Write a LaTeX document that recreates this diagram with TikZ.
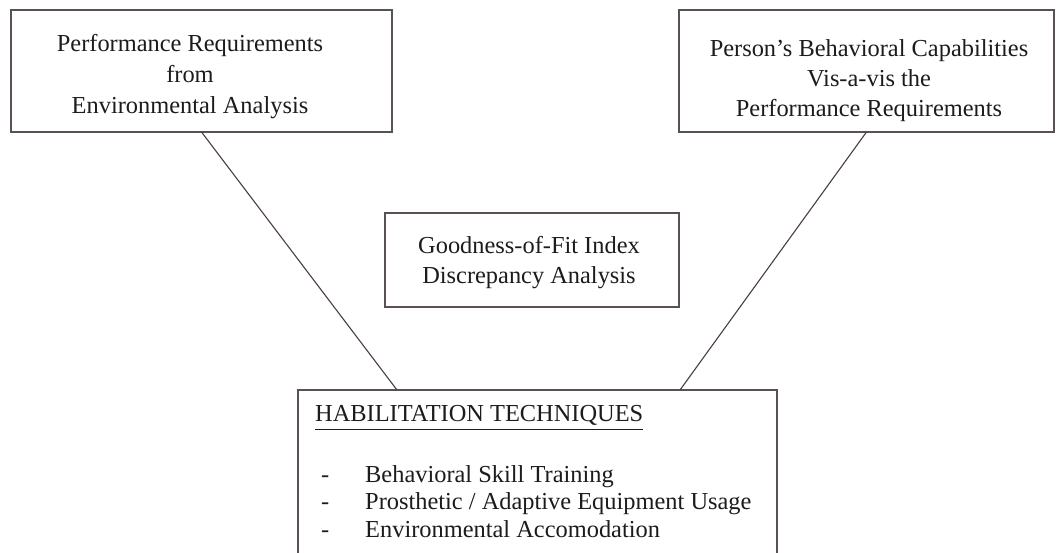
\documentclass[tikz,border=0pt]{standalone}
\usepackage{fontspec}
\setmainfont{Liberation Serif}
\usetikzlibrary{calc}
\definecolor{boxline}{HTML}{5A5252}
\definecolor{linkline}{HTML}{4A3E3E}
\definecolor{ink}{HTML}{1C1C1C}
\begin{document}
\begin{tikzpicture}[x=1pt,y=-1pt,
  panel/.style={draw=boxline, line width=1.6pt, inner sep=0pt, outer sep=0pt},
  caption/.style={anchor=base, inner sep=0pt, text=ink, font=\fontsize{24.4}{31}\selectfont},
  captiontight/.style={anchor=base, inner sep=0pt, text=ink, font=\fontsize{24.4}{30}\selectfont},
  itemtext/.style={anchor=base west, inner sep=0pt, text=ink, font=\fontsize{24.4}{28}\selectfont},
  link/.style={draw=linkline, line width=1.1pt}]
\useasboundingbox (0,0) rectangle (1056,553);
\clip (0,0) rectangle (1056,553);
\fill[white] (0,0) rectangle (1056,553);

% upper left: requirements from the environment
\node[panel, minimum width=381pt, minimum height=122pt] (perf) at (201.5,71) {};
\node[caption] (perftext) at (190,52)
  {\begin{tabular}[t]{@{}c@{}}Performance Requirements\\from\\Environmental Analysis\end{tabular}};

% upper right: the person's capabilities
\node[panel, minimum width=375pt, minimum height=122pt] (cap) at (866.5,71) {};
\node[captiontight] (captext) at (869,57)
  {\begin{tabular}[t]{@{}c@{}}Person’s Behavioral Capabilities\\Vis-a-vis the\\Performance Requirements\end{tabular}};

% centre: fit index
\node[panel, minimum width=294pt, minimum height=94pt] (fit) at (532,260) {};
\node[captiontight] (fittext) at (529,253)
  {\begin{tabular}[t]{@{}c@{}}Goodness-of-Fit Index\\Discrepancy Analysis\end{tabular}};

% bottom: habilitation techniques
\node[panel, minimum width=479pt, minimum height=175pt, anchor=north west] (hab) at (298,390) {};
\node[itemtext] (head) at (315,421) {HABILITATION TECHNIQUES};
\draw[ink, line width=1pt] ($(head.base west)+(0,8)$) -- ($(head.base east)+(0,8)$);

\node[itemtext] (d1) at (321,482) {-};
\node[itemtext] (i1) at (365,482) {Behavioral Skill Training};
\node[itemtext] (d2) at (321,509.5) {-};
\node[itemtext] (i2) at (365,509.5) {Prosthetic / Adaptive Equipment Usage};
\node[itemtext] (d3) at (321,537) {-};
\node[itemtext] (i3) at (365,537) {Environmental Accomodation};

% connectors
\coordinate (hl) at ($(hab.north west)+(99,0)$);
\coordinate (hr) at ($(hab.north east)+(-97,0)$);
\draw[link] (perf.south) -- (hl);
\draw[link] (cap.south) -- (hr);
\end{tikzpicture}
\end{document}
